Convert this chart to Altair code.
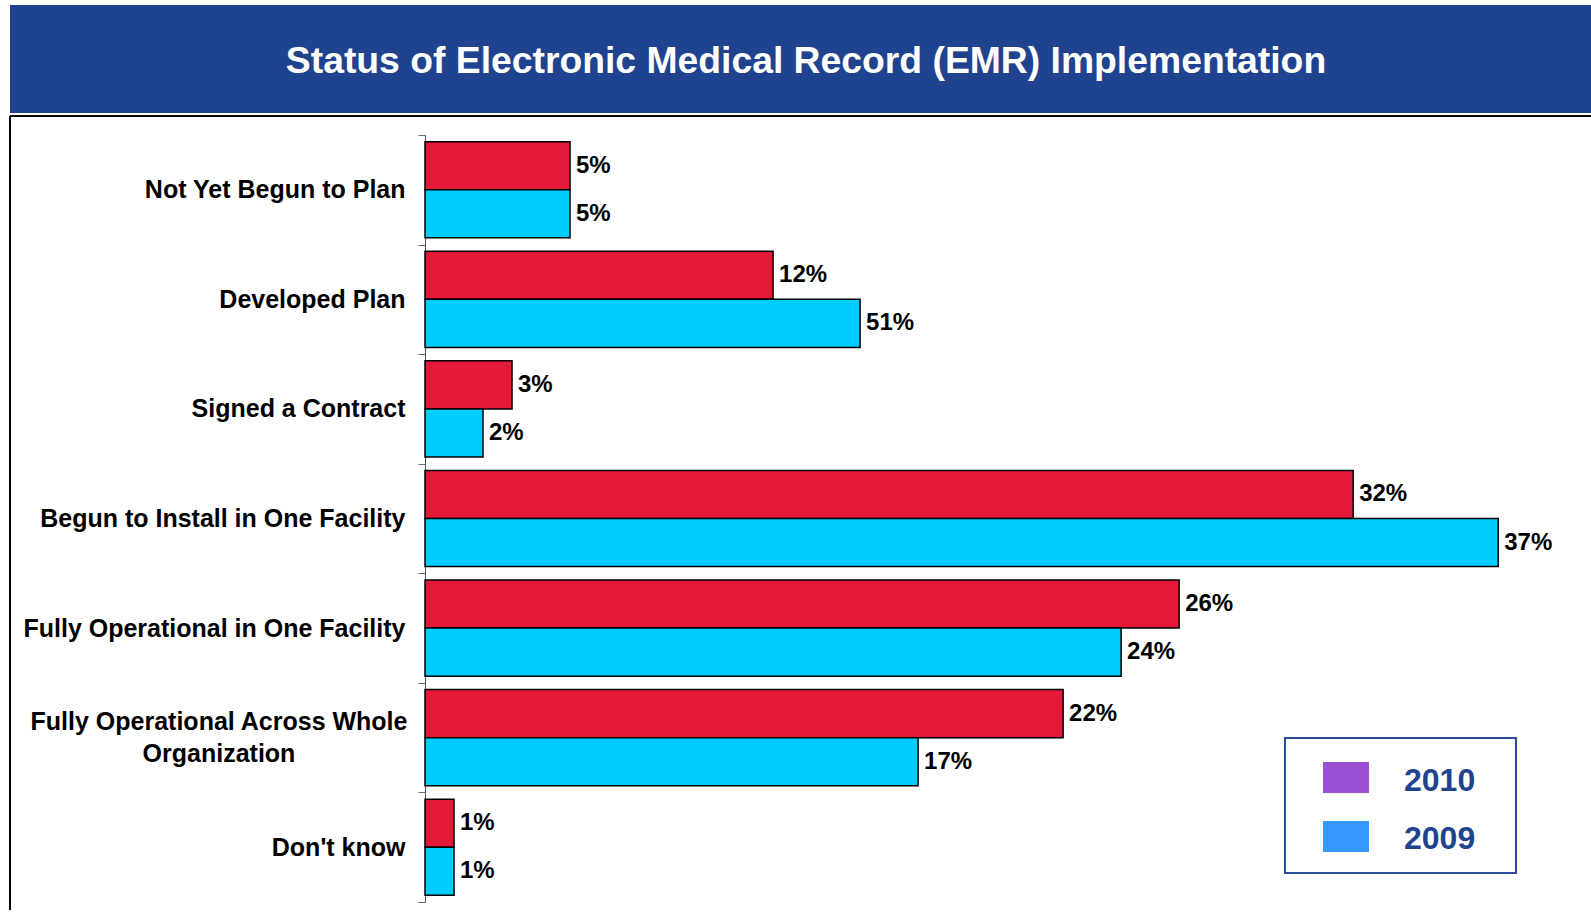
import altair as alt
import pandas as pd

# ---- data ----
categories = [
    "Not Yet Begun to Plan",
    "Developed Plan",
    "Signed a Contract",
    "Begun to Install in One Facility",
    "Fully Operational in One Facility",
    "Fully Operational Across Whole Organization",
    "Don't know",
]
years = ["2010", "2009"]
# bar lengths as drawn (percent)
values_2010 = [5, 12, 3, 32, 26, 22, 1]
values_2009 = [5, 15, 2, 37, 24, 17, 1]
# printed labels (the reference prints 51% on the 15%-long bar)
labels_2010 = ["5%", "12%", "3%", "32%", "26%", "22%", "1%"]
labels_2009 = ["5%", "51%", "2%", "37%", "24%", "17%", "1%"]

bar_colors = ["#E31937", "#00CCFF"]
legend_labels = ["2010", "2009"]
legend_colors = ["#9B51D6", "#3399FF"]

title_text = "Status of Electronic Medical Record (EMR) Implementation"
wrapped_label = "Fully Operational Across Whole\nOrganization"

rows = []
for i, c in enumerate(categories):
    rows.append({"cat": c, "year": "2010", "value": values_2010[i], "label": labels_2010[i]})
    rows.append({"cat": c, "year": "2009", "value": values_2009[i], "label": labels_2009[i]})
df = pd.DataFrame(rows)

FONT = "Liberation Sans"
NAVY = "#20438F"
W, H = 1166, 767

y_enc = alt.Y(
    "cat:N",
    sort=categories,
    scale=alt.Scale(domain=categories, paddingInner=0, paddingOuter=0),
    axis=alt.Axis(
        title=None,
        tickBand="extent",
        tickSize=7,
        tickColor="#666666",
        domainColor="#555555",
        labelFont=FONT,
        labelFontSize=25,
        labelFontWeight="bold",
        labelColor="black",
        labelPadding=13,
        labelLimit=500,
        labelExpr="datum.label == 'Fully Operational Across Whole Organization' ? '' : datum.label",
    ),
)
yoff_enc = alt.YOffset("year:N", sort=years, scale=alt.Scale(domain=years, paddingInner=0, paddingOuter=0.14))
x_enc = alt.X("value:Q", scale=alt.Scale(domain=[0, 40.2], nice=False, zero=True), axis=None)

bars = alt.Chart(df).mark_bar(stroke="black", strokeWidth=1.5).encode(
    y=y_enc,
    yOffset=yoff_enc,
    x=x_enc,
    color=alt.Color("year:N", sort=years, scale=alt.Scale(domain=years, range=bar_colors), legend=None),
)

texts = alt.Chart(df).mark_text(
    align="left", baseline="middle", dx=6, font=FONT, fontSize=24, fontWeight="bold", color="black"
).encode(y=alt.Y("cat:N", sort=categories), yOffset=yoff_enc, x=x_enc, text="label:N")

wrapped = alt.Chart(
    alt.Data(values=[{"cat": "Fully Operational Across Whole Organization", "txt": wrapped_label}])
).mark_text(
    align="center", baseline="middle", lineBreak="\n", lineHeight=32.5, dy=-16,
    font=FONT, fontSize=25, fontWeight="bold", color="black",
).encode(y=alt.Y("cat:N", sort=categories), x=alt.value(-206), text="txt:N")

one = alt.Data(values=[{"a": 1}])

banner = alt.Chart(one).mark_rect(fill=NAVY).encode(
    x=alt.value(-415), x2=alt.value(1166), y=alt.value(-130), y2=alt.value(-22)
)
title = alt.Chart(one).mark_text(
    align="center", baseline="middle", font=FONT, fontSize=37.3, fontWeight="bold", color="white"
).encode(x=alt.value(381), y=alt.value(-73), text=alt.value(title_text))

frame_top = alt.Chart(one).mark_rule(color="black", strokeWidth=2).encode(
    x=alt.value(-415), x2=alt.value(1166), y=alt.value(-19)
)
frame_left = alt.Chart(one).mark_rule(color="black", strokeWidth=2).encode(
    x=alt.value(-415), y=alt.value(-19), y2=alt.value(775)
)

legend_box = alt.Chart(one).mark_rect(fill="white", stroke="#2B4C9B", strokeWidth=2).encode(
    x=alt.value(860), x2=alt.value(1091), y=alt.value(603), y2=alt.value(738)
)
legend_layers = [legend_box]
for i, (lab, col) in enumerate(zip(legend_labels, legend_colors)):
    top = 627 + i * 59
    legend_layers.append(
        alt.Chart(one).mark_rect(fill=col).encode(
            x=alt.value(898), x2=alt.value(944), y=alt.value(top), y2=alt.value(top + 31)
        )
    )
    legend_layers.append(
        alt.Chart(one).mark_text(
            align="left", baseline="middle", font=FONT, fontSize=32, fontWeight="bold", color=NAVY
        ).encode(x=alt.value(979), y=alt.value(top + 19 - i), text=alt.value(lab))
    )

chart = alt.layer(
    banner, title, frame_top, frame_left, bars, texts, wrapped, *legend_layers
).properties(
    width=W,
    height=H,
    autosize=alt.AutoSizeParams(type="none"),
    padding={"left": 425, "top": 135, "right": 0, "bottom": 20},
    background="white",
).configure_view(stroke=None)

chart.save("out.html", embed_options={"renderer": "svg", "actions": False})
